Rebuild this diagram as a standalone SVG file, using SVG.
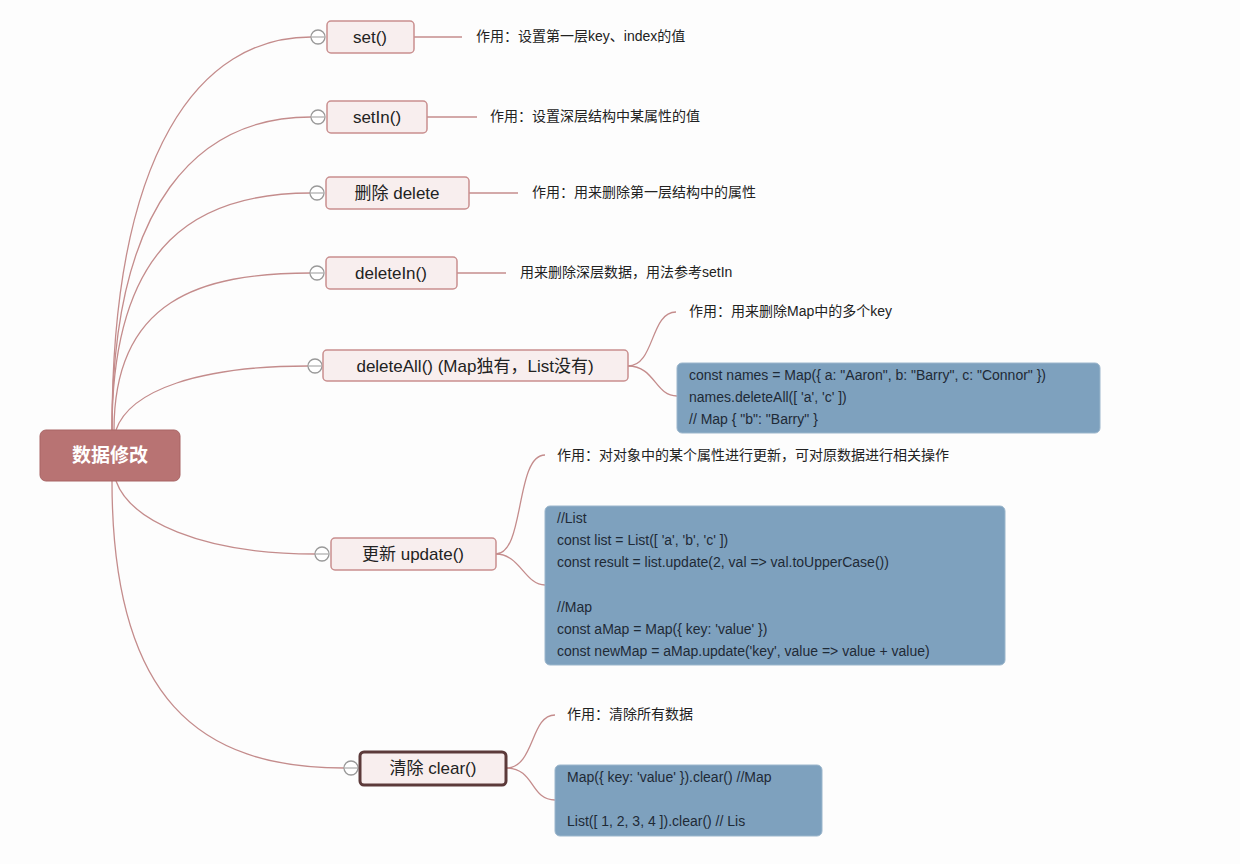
<svg xmlns="http://www.w3.org/2000/svg" width="1240" height="864" viewBox="0 0 1240 864">
<style>
text{font-family:"Liberation Sans","Noto Sans CJK SC",sans-serif;fill:#222}
.n{fill:#f8eeee;stroke:#c98f8f;stroke-width:1.5}
.t{font-size:17px;text-anchor:middle}
.l{font-size:14px}
.c{font-size:14px;fill:#1e2a36}
.b{fill:#7ea1be;stroke:#9bb6cc}
.e{fill:none;stroke:#c48c8c;stroke-width:1.3}
.k{fill:#fff;stroke:#999;stroke-width:1.3}
</style>
<rect width="1240" height="864" fill="#fdfdfd"/>
<g id="connectors" class="e">
<path d="M112,430 C112,150 200,37 311,37"/>
<path d="M112,430 C112,200 200,117 311,117"/>
<path d="M112,430 C112,240 200,193 311,193"/>
<path d="M114,430 C114,300 200,273 311,273"/>
<path d="M116,430 C130,390 200,366 308,366"/>
<path d="M116,481 C130,520 200,554 315,554"/>
<path d="M112,481 C112,700 200,768 344,768"/>
<path d="M414,37 H462"/><path d="M427,117 H477"/><path d="M469,193 H518"/><path d="M457,273 H506"/>
<path d="M628,366 C655,366 650,312 676,312"/>
<path d="M628,366 C655,366 655,396 677,396"/>
<path d="M496,554 C525,554 515,455 545,455"/>
<path d="M496,554 C520,554 525,585 545,585"/>
<path d="M506,768 C535,768 530,715 555,715"/>
<path d="M506,768 C535,768 530,800 555,800"/>
</g>
<g id="root"><rect x="40" y="430" width="140" height="51" rx="6" fill="#b87373" stroke="#a86565"/><text x="110" y="462" font-size="19" font-weight="bold" text-anchor="middle" style="fill:#fff">数据修改</text></g>
<g id="n-set"><circle class="k" cx="318" cy="37" r="7"/><path d="M312,37h12" stroke="#999"/><rect class="n" x="327" y="21" width="87" height="32" rx="4"/><text class="t" x="370" y="43">set()</text><text class="l" x="476" y="41">作用：设置第一层key、index的值</text></g>
<g id="n-setin"><circle class="k" cx="318" cy="117" r="7"/><path d="M312,117h12" stroke="#999"/><rect class="n" x="327" y="101" width="100" height="32" rx="4"/><text class="t" x="377" y="123">setIn()</text><text class="l" x="490" y="121">作用：设置深层结构中某属性的值</text></g>
<g id="n-delete"><circle class="k" cx="317" cy="193" r="7"/><path d="M311,193h12" stroke="#999"/><rect class="n" x="326" y="177" width="143" height="32" rx="4"/><text class="t" x="397" y="199">删除 delete</text><text class="l" x="532" y="197">作用：用来删除第一层结构中的属性</text></g>
<g id="n-deletein"><circle class="k" cx="317" cy="273" r="7"/><path d="M311,273h12" stroke="#999"/><rect class="n" x="326" y="257" width="131" height="32" rx="4"/><text class="t" x="391" y="279">deleteIn()</text><text class="l" x="520" y="277">用来删除深层数据，用法参考setIn</text></g>
<g id="n-deleteall"><circle class="k" cx="315" cy="366" r="7"/><path d="M309,366h12" stroke="#999"/><rect class="n" x="323" y="350" width="305" height="31" rx="4"/><text class="t" x="475" y="372">deleteAll() (Map独有，List没有)</text>
<text class="l" x="689" y="316">作用：用来删除Map中的多个key</text>
<rect class="b" x="677" y="363" width="423" height="70" rx="5"/>
<text class="c" x="689" y="380">const names = Map({ a: "Aaron", b: "Barry", c: "Connor" })</text>
<text class="c" x="689" y="402">names.deleteAll([ 'a', 'c' ])</text>
<text class="c" x="689" y="424">// Map { "b": "Barry" }</text></g>
<g id="n-update"><circle class="k" cx="322" cy="554" r="7"/><path d="M316,554h12" stroke="#999"/><rect class="n" x="331" y="538" width="165" height="32" rx="4"/><text class="t" x="413" y="560">更新 update()</text>
<text class="l" x="557" y="460">作用：对对象中的某个属性进行更新，可对原数据进行相关操作</text>
<rect class="b" x="545" y="506" width="460" height="159" rx="5"/>
<text class="c" x="557" y="523">//List</text>
<text class="c" x="557" y="545">const list = List([ 'a', 'b', 'c' ])</text>
<text class="c" x="557" y="567">const result = list.update(2, val =&gt; val.toUpperCase())</text>
<text class="c" x="557" y="612">//Map</text>
<text class="c" x="557" y="634">const aMap = Map({ key: 'value' })</text>
<text class="c" x="557" y="656">const newMap = aMap.update('key', value =&gt; value + value)</text></g>
<g id="n-clear"><circle class="k" cx="351" cy="768" r="7"/><path d="M345,768h12" stroke="#999"/><rect x="360" y="752" width="146" height="33" rx="4" fill="#f8eeee" stroke="#5c3a3a" stroke-width="3"/><text class="t" x="433" y="774">清除 clear()</text>
<text class="l" x="567" y="719">作用：清除所有数据</text>
<rect class="b" x="555" y="765" width="267" height="71" rx="5"/>
<text class="c" x="567" y="782">Map({ key: 'value' }).clear() //Map</text>
<text class="c" x="567" y="826">List([ 1, 2, 3, 4 ]).clear() // Lis</text></g>
</svg>
